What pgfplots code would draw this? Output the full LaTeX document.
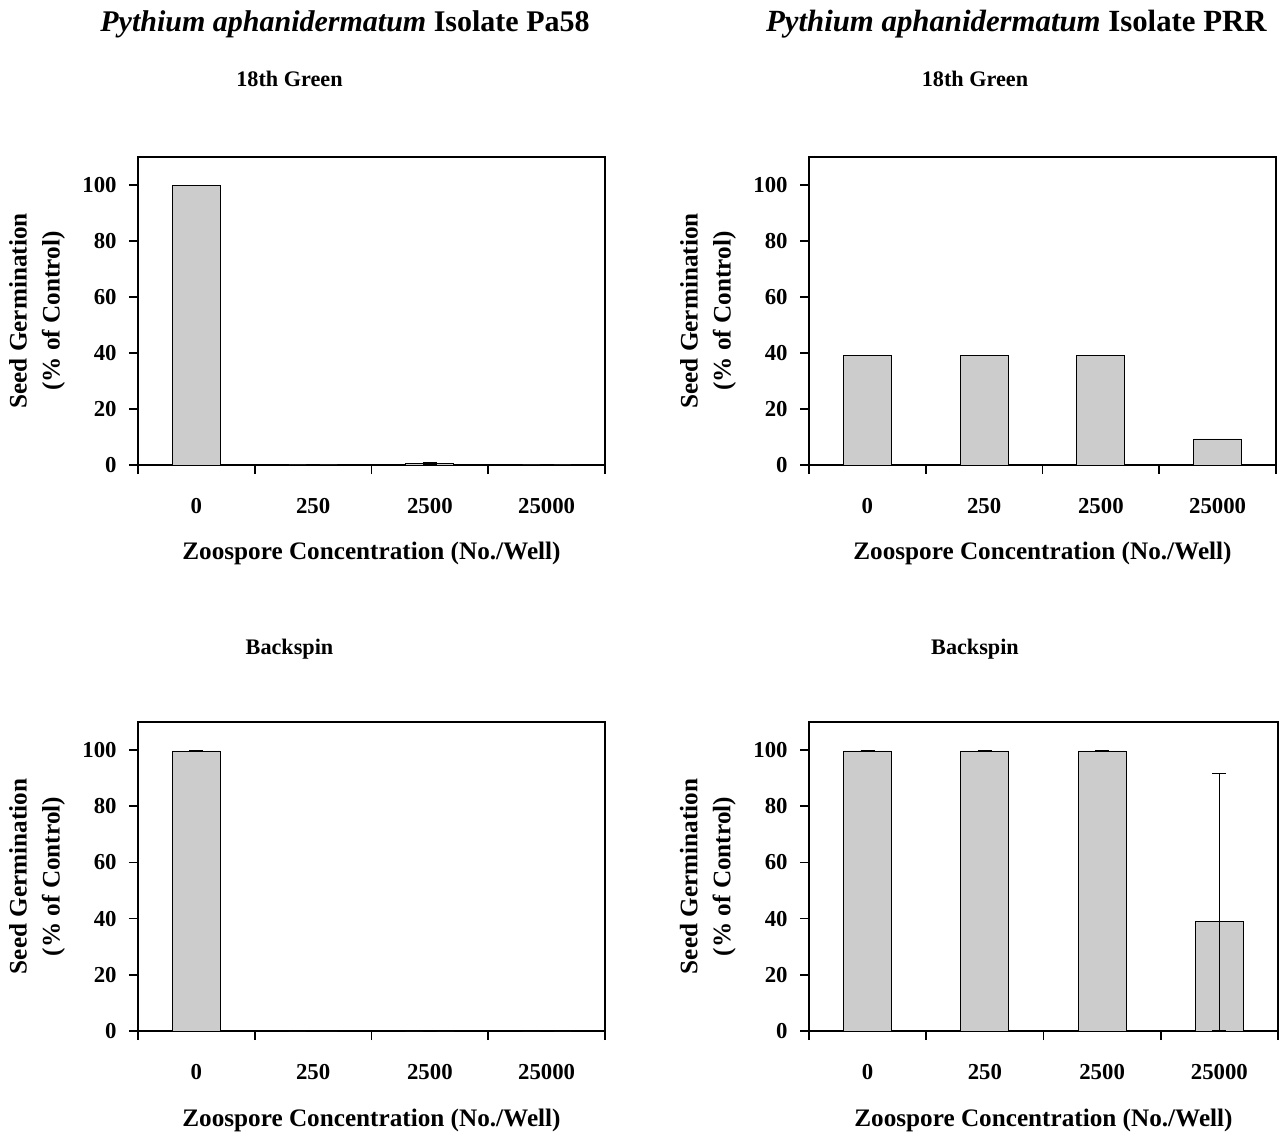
\documentclass[border=0pt]{standalone}
\usepackage{fontspec}
\setmainfont{Liberation Serif}
\usepackage{pgfplots}
\pgfplotsset{compat=1.18}

\definecolor{barfill}{RGB}{204,204,204}

% one panel: four zoospore levels, bars in light grey
\pgfplotsset{
  germ/.style={
    scale only axis, width=233.5pt, height=154pt,
    anchor=south west,
    ybar, bar width=24pt,
    xmin=-0.5, xmax=3.5, ymin=0, ymax=110,
    xtick={-0.5,0.5,1.5,2.5,3.5},
    x tick label as interval,
    xticklabels={0,250,2500,25000},
    ytick={0,20,40,60,80,100},
    tick align=outside, tick pos=left,
    major tick length=4.5pt,
    axis line style={line width=0.8pt},
    tick style={line width=0.8pt, black},
    /pgf/number format/assume math mode=true,
    tick label style={font=\bfseries\fontsize{11.4}{13}\selectfont},
    xticklabel style={anchor=base, yshift=-19.5pt},
    yticklabel style={inner sep=1.5pt, xshift=-4.5pt},
    xlabel={Zoospore Concentration (No./Well)},
    xlabel style={at={(axis description cs:0.5,-0.308)}, anchor=base,
      font=\bfseries\fontsize{12.6}{15}\selectfont},
    ylabel={Seed Germination\\(\% of Control)},
    ylabel style={at={(axis description cs:-0.216,0.5)}, anchor=center,
      align=center, font=\bfseries\fontsize{12.6}{16.5}\selectfont},
    cycle list={{fill=barfill, draw=black, line width=0.5pt}},
    error bars/error bar style={line width=0.5pt, black},
    error bars/error mark options={rotate=90, mark size=3.5pt, line width=0.6pt, black},
  },
}

\begin{document}
\begin{tikzpicture}
\path[use as bounding box] (0,0) rectangle (641pt,566pt);

\node[anchor=base, font=\bfseries\fontsize{15}{18}\selectfont] at (172.5pt,550pt)
  {\textit{Pythium aphanidermatum} Isolate Pa58};
\node[anchor=base west, font=\bfseries\fontsize{15.4}{18}\selectfont] at (379.5pt,550pt)
  {\textit{Pythium aphanidermatum} Isolate PRR};

\node[anchor=base, font=\bfseries\fontsize{11.1}{13}\selectfont] at (144.75pt,522.5pt) {18th Green};
\node[anchor=base, font=\bfseries\fontsize{11.1}{13}\selectfont] at (487.5pt,522.5pt) {18th Green};
\node[anchor=base, font=\bfseries\fontsize{11.1}{13}\selectfont] at (144.75pt,238.5pt) {Backspin};
\node[anchor=base, font=\bfseries\fontsize{11.1}{13}\selectfont] at (487.5pt,238.5pt) {Backspin};

% Pa58, 18th Green
\begin{axis}[germ, at={(69pt,333.5pt)}]
\addplot+[error bars/.cd, y dir=both, y explicit] coordinates {
  (0,99.7) +- (0,0)
  (1,0) +- (0,0)
  (2,0.4) += (0,0.6) -= (0,0.4)
  (3,0) +- (0,0)
};
\end{axis}

% PRR, 18th Green
\begin{axis}[germ, at={(404.5pt,333.5pt)}]
\addplot coordinates {
  (0,39.2) (1,39.2) (2,39.2) (3,9.3)
};
\end{axis}

% Pa58, Backspin
\begin{axis}[germ, at={(69pt,50.5pt)}, height=154.5pt]
\addplot+[error bars/.cd, y dir=both, y explicit] coordinates {
  (0,99.7) +- (0,0)
  (1,0) +- (0,0)
  (2,0) +- (0,0)
  (3,0) +- (0,0)
};
\end{axis}

% PRR, Backspin
\begin{axis}[germ, at={(404.5pt,50.5pt)}, width=234.5pt, height=154.5pt]
\addplot+[error bars/.cd, y dir=both, y explicit] coordinates {
  (0,99.7) +- (0,0)
  (1,99.7) +- (0,0)
  (2,99.7) +- (0,0)
  (3,39.0) += (0,52.7) -= (0,39.0)
};
\end{axis}
\end{tikzpicture}
\end{document}
